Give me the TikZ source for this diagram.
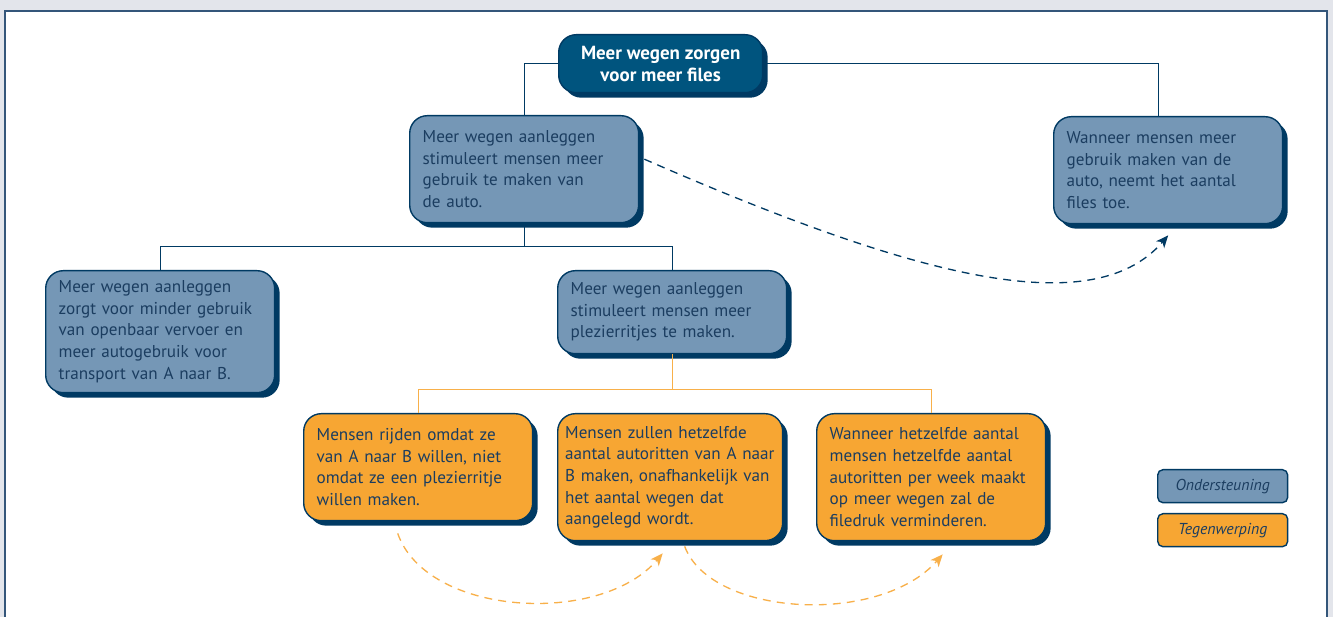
\documentclass[tikz,border=0pt]{standalone}
\usepackage{fontspec}
\setmainfont{PT Sans}
\usetikzlibrary{shadows,arrows.meta}

\definecolor{pagegray}{HTML}{E3E5EB}
\definecolor{framenavy}{HTML}{34567A}
\definecolor{navy}{HTML}{003A63}
\definecolor{topblue}{HTML}{00547E}
\definecolor{profill}{HTML}{7597B6}
\definecolor{confill}{HTML}{F7A633}
\definecolor{confline}{HTML}{F8B04A}
\definecolor{inkblue}{HTML}{1B3D60}

\begin{document}
\begin{tikzpicture}[x=0.02cm,y=-0.02cm,
    every node/.style={font=\fontsize{9.75}{12.3}\selectfont, text=inkblue},
    claim/.style={draw=navy, line width=0.8pt, rounded corners=10pt,
                  anchor=north west, text width=4.06cm, inner xsep=0.26cm,
                  align=left,
                  drop shadow={shadow xshift=0.1cm, shadow yshift=-0.1cm,
                               fill=navy, opacity=1}},
    pro/.style={claim, fill=profill},
    contra/.style={claim, fill=confill},
    legendbox/.style={draw=navy, line width=0.8pt, rounded corners=3pt,
                      anchor=north west, minimum width=2.6cm, minimum height=0.66cm,
                      font=\fontsize{9}{10}\selectfont\itshape},
    treeline/.style={draw=navy, line width=0.7pt},
    conline/.style={draw=confline, line width=0.7pt},
    supportarrow/.style={navy, line width=0.75pt, dash pattern=on 4.5pt off 3.5pt,
                         -{Stealth[length=7pt,width=6pt,inset=2pt]}},
    counterarrow/.style={supportarrow, confline}
  ]
  \useasboundingbox (0,0) rectangle (1333,617);
  \fill[pagegray] (0,0) rectangle (1333,617);
  \filldraw[fill=white, draw=framenavy, line width=1.2pt] (5,11) rectangle (1327,640);

  \node[draw=navy, fill=topblue, line width=0.8pt, rounded corners=10pt,
        anchor=north west, minimum width=4.08cm, minimum height=1.16cm,
        align=center, font=\fontsize{10.8}{12.4}\selectfont\bfseries, text=white,
        drop shadow={shadow xshift=0.1cm, shadow yshift=-0.1cm, fill=navy, opacity=1}]
    (top) at (558,34) {Meer wegen zorgen\\voor meer files};

  \node[pro, minimum height=2.14cm] (b1) at (409,115)
    {Meer wegen aanleggen\\stimuleert mensen meer\\gebruik te maken van\\de auto.};
  \node[pro, minimum height=2.14cm] (b2) at (1053,116)
    {Wanneer mensen meer\\gebruik maken van de\\auto, neemt het aantal\\files toe.};
  \node[pro, minimum height=2.44cm] (b3) at (45,270)
    {Meer wegen aanleggen\\zorgt voor minder gebruik\\van openbaar vervoer en\\meer autogebruik voor\\transport van A naar B.};
  \node[pro, minimum height=1.66cm] (b4) at (557,270)
    {Meer wegen aanleggen\\stimuleert mensen meer\\plezierritjes te maken.};

  \node[contra, minimum height=2.14cm] (o1) at (303,413)
    {Mensen rijden omdat ze\\van A naar B willen, niet\\omdat ze een plezierritje\\willen maken.};
  \node[contra, minimum height=2.54cm, text width=4.2cm, inner xsep=0.15cm] (o2) at (557,413)
    {Mensen zullen hetzelfde\\aantal autoritten van A naar\\B maken, onafhankelijk van\\het aantal wegen dat\\aangelegd wordt.};
  \node[contra, minimum height=2.54cm] (o3) at (816,413)
    {Wanneer hetzelfde aantal\\mensen hetzelfde aantal\\autoritten per week maakt\\op meer wegen zal de\\filedruk verminderen.};

  \node[legendbox, fill=profill] (legpro) at (1157,469) {Ondersteuning};
  \node[legendbox, fill=confill] (legcontra) at (1157,513) {Tegenwerping};

  \draw[treeline] (top.west) -| (b1.north);
  \draw[treeline] (top.east) -| ([xshift=-0.2cm]b2.north);
  \draw[treeline] (b1.south) -- ++(0,23) coordinate (split1);
  \draw[treeline] (b3.north) |- (split1) -| (b4.north);
  \draw[conline] (b4.south) -- ++(0,35) coordinate (split2);
  \draw[conline] (o1.north) |- (split2) -| (o3.north);

  \draw[supportarrow] ([xshift=0.1cm,yshift=0.2cm]b1.east)
    .. controls +(257,112) and +(-78,91) .. ([yshift=-0.22cm]b2.south);
  \draw[counterarrow] ([xshift=-0.41cm,yshift=-0.24cm]o1.south)
    .. controls +(29,83) and +(-62,73) .. ([xshift=-0.15cm,yshift=-0.24cm]o2.south);
  \draw[counterarrow] ([xshift=0.29cm,yshift=-0.1cm]o2.south)
    .. controls +(26,70) and +(-63,72) .. ([xshift=0.23cm,yshift=-0.26cm]o3.south);
\end{tikzpicture}
\end{document}
